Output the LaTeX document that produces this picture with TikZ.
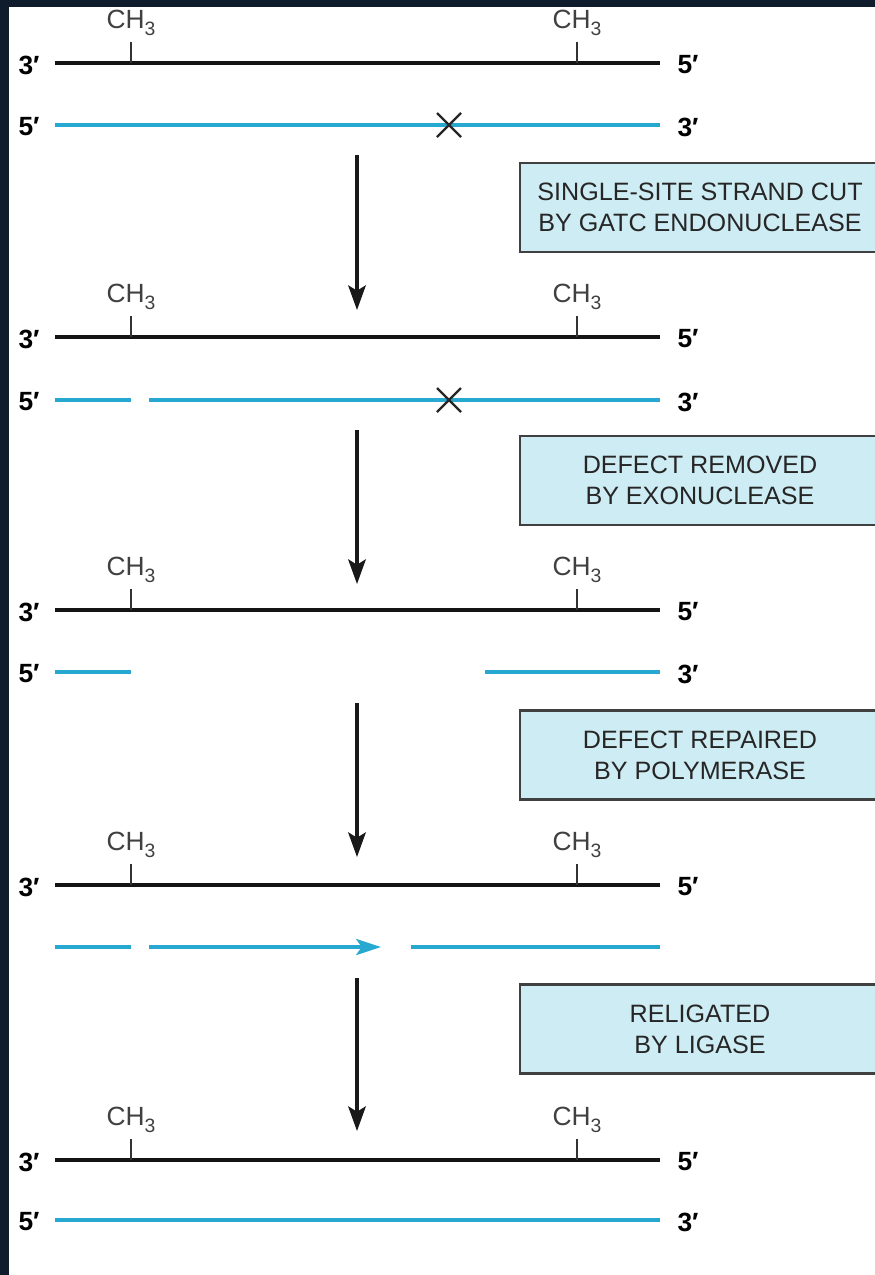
\documentclass[tikz,border=0pt]{standalone}
\usepackage{fontspec}
\setmainfont{Liberation Sans}
\usetikzlibrary{arrows.meta}
\definecolor{navy}{RGB}{14,28,44}
\definecolor{dnablue}{RGB}{38,168,208}
\definecolor{boxfill}{RGB}{206,236,243}
\begin{document}
\begin{tikzpicture}[x=0.02cm,y=-0.02cm,
  strandblack/.style={line width=2.1pt,black!92},
  strandblue/.style={line width=2.5pt,dnablue},
  thinblue/.style={line width=2.1pt,dnablue},
  methyltick/.style={line width=0.8pt,black!80},
  endlabel/.style={font=\fontsize{15}{15}\selectfont\bfseries,inner sep=0pt},
  methyl/.style={font=\fontsize{15}{15}\selectfont,text=black!75,inner sep=0pt,anchor=base},
  stepbox/.style={draw=black!75,line width=1.3pt,fill=boxfill,minimum width=7.2cm,minimum height=1.78cm,
    align=center,font=\fontsize{14.3}{17.5}\selectfont,text=black!85,inner sep=0pt},
  steparrow/.style={line width=1.8pt,black!90,-{Stealth[length=14pt,width=10pt,inset=3pt]}},
  cutmark/.style={line width=1.3pt,black!85},
]
\useasboundingbox (0,0) rectangle (875,1275);
\clip (0,0) rectangle (875,1275);
\fill[navy] (0,0) rectangle (875,1275);
\fill[white] (9,7) rectangle (875,1275);

% template strands (black) with methyl groups
\foreach \r/\y in {1/63,2/337,3/610,4/885,5/1160}{
  \coordinate (bL\r) at (55,\y);
  \coordinate (bR\r) at (660,\y);
  \draw[strandblack] (bL\r) -- (bR\r);
  \node[methyl] (mA\r) at (131,\y-35) {CH\raisebox{-4pt}{\fontsize{11}{11}\selectfont 3}};
  \node[methyl] (mB\r) at (577,\y-35) {CH\raisebox{-4pt}{\fontsize{11}{11}\selectfont 3}};
  \draw[methyltick] (131,\y-21) -- (131,\y);
  \draw[methyltick] (577,\y-21) -- (577,\y);
  \node[endlabel] (tl\r) at (29,\y+2) {3′};
  \node[endlabel] (tr\r) at (688,\y+2) {5′};
}

% row 1 daughter strand
\coordinate (u1a) at (55,125); \coordinate (u1b) at (660,125);
\draw[strandblue] (u1a) -- (u1b);
\draw[cutmark] (437,113) -- (461,137) (437,137) -- (461,113);
\node[endlabel] (ul1) at (29,127) {5′};
\node[endlabel] (ur1) at (688,127) {3′};

% row 2
\coordinate (u2a) at (55,400); \coordinate (u2b) at (131,400);
\coordinate (u2c) at (149,400); \coordinate (u2d) at (660,400);
\draw[strandblue] (u2a) -- (u2b);
\draw[strandblue] (u2c) -- (u2d);
\draw[cutmark] (437,388) -- (461,412) (437,412) -- (461,388);
\node[endlabel] (ul2) at (29,402) {5′};
\node[endlabel] (ur2) at (688,402) {3′};

% row 3
\coordinate (u3a) at (55,672); \coordinate (u3b) at (131,672);
\coordinate (u3c) at (485,672); \coordinate (u3d) at (660,672);
\draw[thinblue] (u3a) -- (u3b);
\draw[thinblue] (u3c) -- (u3d);
\node[endlabel] (ul3) at (29,674) {5′};
\node[endlabel] (ur3) at (688,674) {3′};

% row 4
\coordinate (u4a) at (55,947); \coordinate (u4b) at (131,947);
\coordinate (u4c) at (149,947); \coordinate (u4d) at (381,947);
\coordinate (u4e) at (411,947); \coordinate (u4f) at (660,947);
\draw[strandblue] (u4a) -- (u4b);
\draw[strandblue,-{Stealth[length=14pt,width=9pt,inset=3pt]}] (u4c) -- (u4d);
\draw[strandblue] (u4e) -- (u4f);

% row 5
\coordinate (u5a) at (55,1220); \coordinate (u5b) at (660,1220);
\draw[thinblue] (u5a) -- (u5b);
\node[endlabel] (ul5) at (29,1222) {5′};
\node[endlabel] (ur5) at (688,1222) {3′};

% arrows
\coordinate (s1) at (357,155);  \coordinate (e1) at (357,310);
\coordinate (s2) at (357,430);  \coordinate (e2) at (357,584);
\coordinate (s3) at (357,703);  \coordinate (e3) at (357,857);
\coordinate (s4) at (357,978);  \coordinate (e4) at (357,1131);
\draw[steparrow] (s1) -- (e1);
\draw[steparrow] (s2) -- (e2);
\draw[steparrow] (s3) -- (e3);
\draw[steparrow] (s4) -- (e4);

% step boxes
\node[stepbox] (box1) at (700,207.5) {SINGLE-SITE STRAND CUT\\BY GATC ENDONUCLEASE};
\node[stepbox] (box2) at (700,480.5) {DEFECT REMOVED\\BY EXONUCLEASE};
\node[stepbox] (box3) at (700,755) {DEFECT REPAIRED\\BY POLYMERASE};
\node[stepbox] (box4) at (700,1029) {RELIGATED\\BY LIGASE};
\end{tikzpicture}
\end{document}
